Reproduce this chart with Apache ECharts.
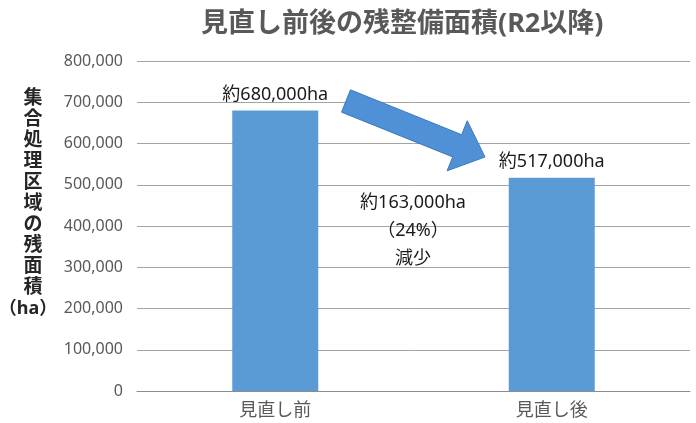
<!DOCTYPE html>
<html>
<head>
<meta charset="utf-8">
<script src="https://cdn.jsdelivr.net/npm/echarts@6/dist/echarts.min.js"></script>
<style>
  html, body { margin: 0; padding: 0; background: #fff; }
  #chart { width: 696px; height: 423px; }
</style>
</head>
<body>
<div id="chart"></div>
<script>
// data
var categories = ['見直し前', '見直し後'];
var areaValues = [680000, 517000];   // ha
var yTicks = [0, 100000, 200000, 300000, 400000, 500000, 600000, 700000, 800000];

var FONT = "'Noto Sans', 'Noto Sans CJK JP', sans-serif";
var chart = echarts.init(document.getElementById('chart'));

function withCommas(v) {
  return String(v).replace(/\B(?=(\d{3})+(?!\d))/g, ',');
}

// difference text is worked out from the two bars
var diff = areaValues[0] - areaValues[1];
var pct = Math.round(diff / areaValues[0] * 100);

// block arrow between the two bars (decoration only)
function arrowPoints(tail, tip, shaftHalf, headHalf, headLen) {
  var dx = tip[0] - tail[0], dy = tip[1] - tail[1];
  var len = Math.sqrt(dx * dx + dy * dy);
  var ux = dx / len, uy = dy / len;
  var nx = -uy, ny = ux;
  var bx = tip[0] - ux * headLen, by = tip[1] - uy * headLen;
  return [
    [tail[0] - nx * shaftHalf, tail[1] - ny * shaftHalf],
    [bx - nx * shaftHalf, by - ny * shaftHalf],
    [bx - nx * headHalf, by - ny * headHalf],
    tip,
    [bx + nx * headHalf, by + ny * headHalf],
    [bx + nx * shaftHalf, by + ny * shaftHalf],
    [tail[0] + nx * shaftHalf, tail[1] + ny * shaftHalf]
  ];
}

var yTitle = '集合処理区域の残面積'.split('').join('\n');

var options = {
  backgroundColor: '#fff',
  animation: false,
  title: {
    text: '見直し前後の残整備面積(R2以降)',
    left: 196,
    top: 6,
    textStyle: { fontFamily: FONT, fontSize: 27, fontWeight: 'bold', color: '#595959' }
  },
  grid: { left: 137, right: 6, top: 61, bottom: 32 },
  xAxis: {
    type: 'category',
    data: categories,
    axisLine: { lineStyle: { color: '#8c8c8c', width: 1 } },
    axisTick: { show: false },
    axisLabel: { fontFamily: FONT, fontSize: 18, color: '#595959', margin: 11 }
  },
  yAxis: {
    type: 'value',
    min: yTicks[0],
    max: yTicks[yTicks.length - 1],
    interval: yTicks[1] - yTicks[0],
    axisLine: { show: false },
    axisTick: { show: false },
    splitLine: { lineStyle: { color: '#a3a3a3', width: 1 } },
    axisLabel: {
      fontFamily: FONT, fontSize: 16, color: '#595959', margin: 14,
      formatter: function (v) { return withCommas(v); }
    }
  },
  series: [
    {
      type: 'bar',
      data: areaValues,
      barWidth: 86,
      itemStyle: { color: '#5b9bd5' },
      label: {
        show: true,
        position: 'top',
        distance: 6,
        fontFamily: FONT,
        fontSize: 18,
        lineHeight: 20,
        color: '#1a1a1a',
        formatter: function (p) { return '約' + withCommas(p.value) + 'ha'; }
      }
    }
  ],
  graphic: [
    {
      type: 'polygon',
      shape: { points: arrowPoints([346, 101], [485, 157], 12, 27, 30) },
      style: { fill: '#4f90d6', stroke: '#3b7bbf', lineWidth: 1 },
      z: 10
    },
    {
      type: 'text',
      x: 413,
      y: 189,
      style: {
        text: '約' + withCommas(diff) + 'ha\n（' + pct + '%）\n減少',
        fontFamily: FONT, fontSize: 18, lineHeight: 28,
        fill: '#1a1a1a', align: 'center', verticalAlign: 'top'
      },
      z: 10
    },
    {
      type: 'text',
      x: 33,
      y: 88,
      style: {
        text: yTitle,
        fontFamily: FONT, fontSize: 19, fontWeight: 'bold', lineHeight: 21,
        fill: '#262626', align: 'center', verticalAlign: 'top'
      }
    },
    {
      type: 'text',
      x: 28,
      y: 298,
      style: {
        text: '（ha）',
        fontFamily: FONT, fontSize: 18, fontWeight: 'bold', lineHeight: 21,
        fill: '#262626', align: 'center', verticalAlign: 'top'
      }
    }
  ]
};

chart.setOption(options);
</script>
</body>
</html>
